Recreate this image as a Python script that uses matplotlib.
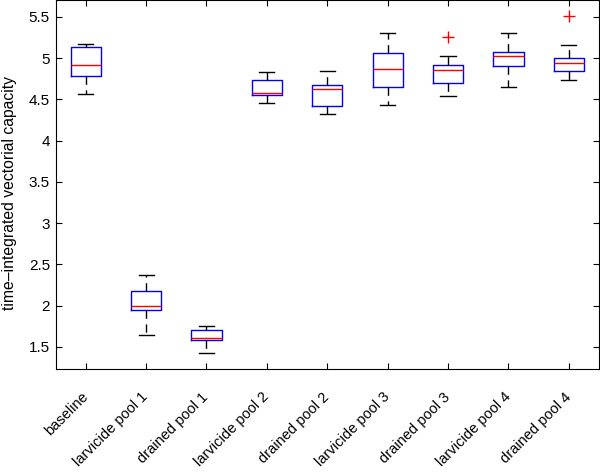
import matplotlib
matplotlib.use("Agg")
import matplotlib.pyplot as plt
from matplotlib.transforms import ScaledTranslation

categories = ["baseline", "larvicide pool 1", "drained pool 1", "larvicide pool 2",
              "drained pool 2", "larvicide pool 3", "drained pool 3",
              "larvicide pool 4", "drained pool 4"]
medians = [4.915, 1.993, 1.606, 4.579, 4.624, 4.873, 4.858, 5.024, 4.942]
q1 = [4.785, 1.948, 1.582, 4.555, 4.418, 4.648, 4.696, 4.903, 4.845]
q3 = [5.133, 2.175, 1.706, 4.733, 4.679, 5.067, 4.915, 5.079, 5.007]
whisker_low = [4.567, 1.649, 1.427, 4.458, 4.321, 4.430, 4.539, 4.652, 4.733]
whisker_high = [5.169, 2.369, 1.758, 4.833, 4.845, 5.302, 5.024, 5.302, 5.164]
outliers = [[], [], [], [], [], [], [5.261], [], [5.508]]
yticks = [1.5, 2, 2.5, 3, 3.5, 4, 4.5, 5, 5.5]
ylabel = "time\u2013integrated vectorial capacity"

plt.rcParams['font.family'] = ['Liberation Sans', 'DejaVu Sans']

stats = []
for i, name in enumerate(categories):
    stats.append(dict(label=name, med=medians[i], q1=q1[i], q3=q3[i],
                      whislo=whisker_low[i], whishi=whisker_high[i],
                      fliers=outliers[i]))

fig = plt.figure(figsize=(6.0, 4.72), dpi=100)
ax = fig.add_axes([55.5 / 600, 103 / 472, 543.5 / 600, 369 / 472])

ax.bxp(stats, widths=0.5, showfliers=True,
       boxprops=dict(color='#0000ff', linewidth=1.0),
       medianprops=dict(color='#ff0000', linewidth=1.0),
       whiskerprops=dict(color='black', linewidth=1.0, linestyle=(0, (6, 4))),
       capprops=dict(color='black', linewidth=1.0),
       flierprops=dict(marker='+', markeredgecolor='#ff0000', markersize=9,
                       markeredgewidth=1.0, linestyle='none'))

ax.set_xlim(0.5, 9.5)
ax.set_ylim(1.233, 5.706)
ax.set_yticks(yticks)
ax.set_yticklabels([f"{t:g}" for t in yticks], fontsize=11)
ax.set_xticks(range(1, len(categories) + 1))
ax.set_xticklabels(categories, rotation=45, ha='right', va='top',
                   rotation_mode='anchor', fontsize=10.5)
ax.tick_params(direction='in', length=4, width=0.8, top=True, right=True, pad=4)
ax.tick_params(axis='x', pad=12)
shift = ScaledTranslation(-5 / 100, -4 / 100, fig.dpi_scale_trans)
for lbl in ax.get_xticklabels():
    lbl.set_transform(lbl.get_transform() + shift)
ax.set_ylabel(ylabel, fontsize=11.3)
ax.yaxis.set_label_coords(-0.07, 0.477)
for s in ax.spines.values():
    s.set_linewidth(0.8)

fig.savefig("out.png", dpi=100)
